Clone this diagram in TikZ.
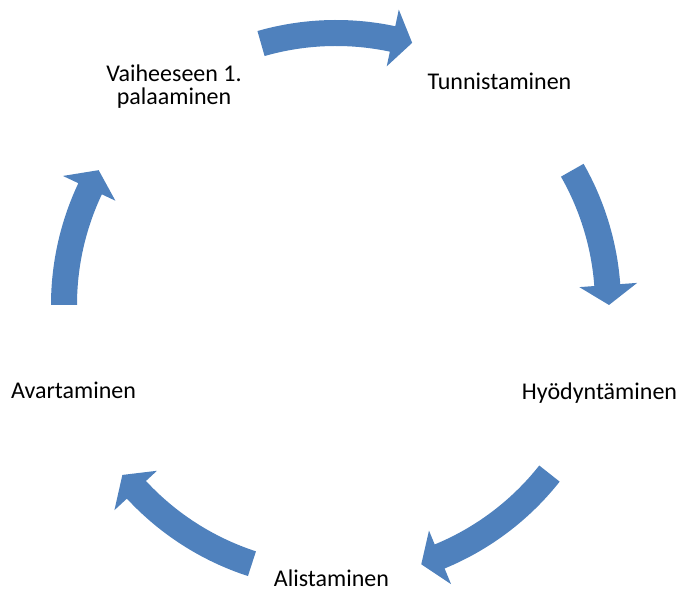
\documentclass[tikz,border=0pt]{standalone}
\usepackage{fontspec}
\setmainfont{Carlito}
\definecolor{accentblue}{HTML}{4F81BD}
\tikzset{
  cyclelabel/.style={font=\fontsize{24}{23.3}\selectfont, inner sep=0pt, anchor=base, text=black},
  twoline/.style={align=center},
  cyclearrow/.style={fill=accentblue, draw=none},
}
% #1 tail angle, #2 head base angle, #3 tip angle
\newcommand{\cycarrow}[3]{%
  \fill[cyclearrow] (#1:285) arc[start angle=#1, end angle=#2, radius=285]
    -- (#2:302) -- (#3:273) -- (#2:244) -- (#2:259)
    arc[start angle=#2, end angle=#1, radius=259] -- cycle;}
\begin{document}
\begin{tikzpicture}[x=1pt,y=1pt]
\useasboundingbox (0,0) rectangle (679,589);
\begin{scope}[shift={(336,284)}]
  \cycarrow{106}{78}{73.8}
  \cycarrow{29.7}{4.2}{0}
  \cycarrow{-38.3}{-67.6}{-71.8}
  \cycarrow{-108}{-137.2}{-141.5}
  \cycarrow{180}{154.7}{150.4}
\end{scope}
\node[cyclelabel] (tunn) at (499.5,499) {Tunnistaminen};
\node[cyclelabel] (hyod) at (599.5,189) {Hyödyntäminen};
\node[cyclelabel] (alis) at (331.5,3) {Alistaminen};
\node[cyclelabel] (avar) at (73.5,190) {Avartaminen};
\node[cyclelabel,twoline] (vaih) at (174,484) {Vaiheeseen 1.\\palaaminen};
\end{tikzpicture}
\end{document}
